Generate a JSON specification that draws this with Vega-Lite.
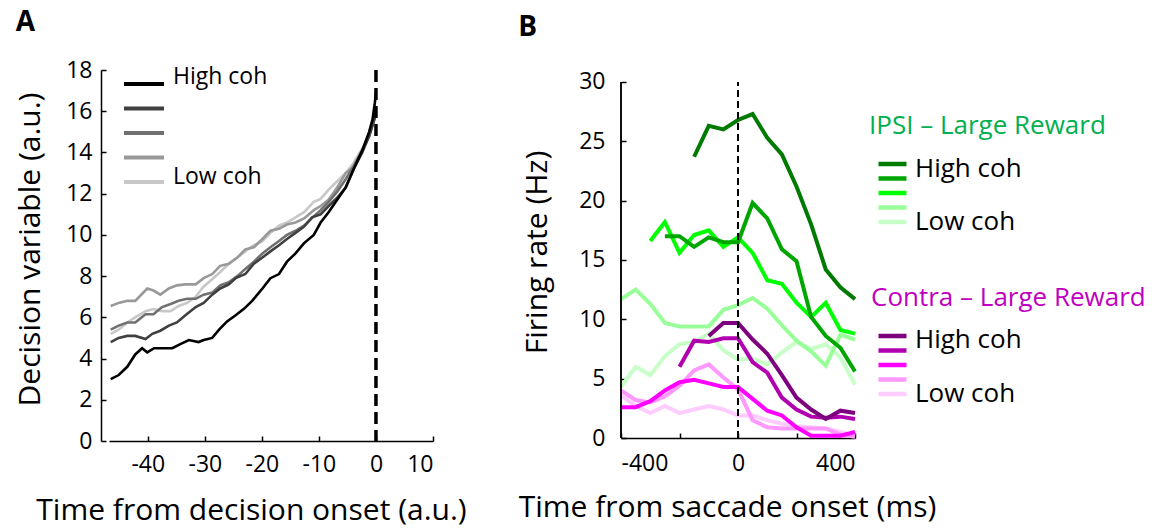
{
  "$schema": "https://vega.github.io/schema/vega-lite/v6.json",
  "background": "white",
  "padding": {"left": 15, "top": 9, "right": 4, "bottom": 4},
  "config": {
    "font": "Open Sans",
    "view": {"stroke": null},
    "axis": {
      "grid": false,
      "domainColor": "black",
      "domainWidth": 1.5,
      "tickColor": "black",
      "tickWidth": 1.5,
      "tickSize": -5,
      "labelColor": "black",
      "titleColor": "black",
      "labelFont": "Open Sans",
      "titleFont": "Open Sans",
      "labelFontSize": 23,
      "titleFontSize": 30,
      "titleFontWeight": "normal"
    },
    "legend": {"labelFont": "Open Sans", "titleFont": "Open Sans", "labelColor": "black"},
    "title": {"font": "Open Sans", "fontWeight": "bold", "fontSize": 28, "color": "black", "anchor": "start", "frame": "bounds"}
  },
  "datasets": {
    "decision": [
      {"coh": "c5", "t": -46.5, "dv": 5.2}, {"coh": "c5", "t": -45.1, "dv": 5.4}, {"coh": "c5", "t": -43.6, "dv": 5.75}, {"coh": "c5", "t": -42.2, "dv": 6.0}, {"coh": "c5", "t": -40.4, "dv": 6.3}, {"coh": "c5", "t": -39.0, "dv": 6.4}, {"coh": "c5", "t": -37.5, "dv": 6.3}, {"coh": "c5", "t": -36.0, "dv": 6.3}, {"coh": "c5", "t": -34.6, "dv": 6.55}, {"coh": "c5", "t": -33.1, "dv": 6.7}, {"coh": "c5", "t": -31.6, "dv": 7.0}, {"coh": "c5", "t": -30.2, "dv": 7.5}, {"coh": "c5", "t": -28.7, "dv": 7.85}, {"coh": "c5", "t": -27.3, "dv": 8.2}, {"coh": "c5", "t": -25.8, "dv": 8.6}, {"coh": "c5", "t": -24.3, "dv": 8.9}, {"coh": "c5", "t": -22.9, "dv": 9.2}, {"coh": "c5", "t": -21.4, "dv": 9.5}, {"coh": "c5", "t": -19.9, "dv": 9.7}, {"coh": "c5", "t": -18.5, "dv": 10.1}, {"coh": "c5", "t": -17.0, "dv": 10.45}, {"coh": "c5", "t": -15.6, "dv": 10.6}, {"coh": "c5", "t": -14.1, "dv": 10.85}, {"coh": "c5", "t": -12.6, "dv": 11.1}, {"coh": "c5", "t": -10.9, "dv": 11.6}, {"coh": "c5", "t": -9.7, "dv": 11.75}, {"coh": "c5", "t": -8.3, "dv": 12.2}, {"coh": "c5", "t": -6.8, "dv": 12.6}, {"coh": "c5", "t": -5.3, "dv": 13.0}, {"coh": "c5", "t": -3.9, "dv": 13.5}, {"coh": "c5", "t": -2.4, "dv": 14.2}, {"coh": "c5", "t": -1.2, "dv": 14.8}, {"coh": "c5", "t": -0.3, "dv": 15.6}, {"coh": "c5", "t": 0, "dv": 15.9},
      {"coh": "c4", "t": -46.5, "dv": 6.55}, {"coh": "c4", "t": -45.1, "dv": 6.7}, {"coh": "c4", "t": -43.6, "dv": 6.8}, {"coh": "c4", "t": -42.2, "dv": 6.8}, {"coh": "c4", "t": -40.1, "dv": 7.4}, {"coh": "c4", "t": -39.0, "dv": 7.3}, {"coh": "c4", "t": -37.8, "dv": 7.1}, {"coh": "c4", "t": -36.3, "dv": 7.4}, {"coh": "c4", "t": -34.9, "dv": 7.55}, {"coh": "c4", "t": -33.4, "dv": 7.6}, {"coh": "c4", "t": -31.6, "dv": 7.6}, {"coh": "c4", "t": -30.2, "dv": 7.9}, {"coh": "c4", "t": -28.7, "dv": 8.1}, {"coh": "c4", "t": -27.3, "dv": 8.5}, {"coh": "c4", "t": -25.8, "dv": 8.6}, {"coh": "c4", "t": -24.3, "dv": 8.9}, {"coh": "c4", "t": -22.9, "dv": 9.3}, {"coh": "c4", "t": -21.4, "dv": 9.4}, {"coh": "c4", "t": -19.9, "dv": 9.8}, {"coh": "c4", "t": -18.5, "dv": 10.2}, {"coh": "c4", "t": -17.0, "dv": 10.3}, {"coh": "c4", "t": -15.6, "dv": 10.5}, {"coh": "c4", "t": -14.1, "dv": 10.6}, {"coh": "c4", "t": -12.6, "dv": 10.8}, {"coh": "c4", "t": -10.9, "dv": 11.2}, {"coh": "c4", "t": -9.7, "dv": 11.4}, {"coh": "c4", "t": -8.3, "dv": 11.7}, {"coh": "c4", "t": -6.8, "dv": 12.3}, {"coh": "c4", "t": -5.3, "dv": 13.0}, {"coh": "c4", "t": -3.9, "dv": 13.3}, {"coh": "c4", "t": -2.4, "dv": 14.1}, {"coh": "c4", "t": -1.2, "dv": 14.8}, {"coh": "c4", "t": -0.3, "dv": 15.6}, {"coh": "c4", "t": 0, "dv": 15.9},
      {"coh": "c3", "t": -46.5, "dv": 5.4}, {"coh": "c3", "t": -45.1, "dv": 5.6}, {"coh": "c3", "t": -43.6, "dv": 5.75}, {"coh": "c3", "t": -42.2, "dv": 5.75}, {"coh": "c3", "t": -40.4, "dv": 6.15}, {"coh": "c3", "t": -39.0, "dv": 6.15}, {"coh": "c3", "t": -37.5, "dv": 6.5}, {"coh": "c3", "t": -36.0, "dv": 6.65}, {"coh": "c3", "t": -34.6, "dv": 6.8}, {"coh": "c3", "t": -33.1, "dv": 6.9}, {"coh": "c3", "t": -31.6, "dv": 6.9}, {"coh": "c3", "t": -30.2, "dv": 7.1}, {"coh": "c3", "t": -28.7, "dv": 7.2}, {"coh": "c3", "t": -27.3, "dv": 7.55}, {"coh": "c3", "t": -25.8, "dv": 7.7}, {"coh": "c3", "t": -24.3, "dv": 8.0}, {"coh": "c3", "t": -22.9, "dv": 8.35}, {"coh": "c3", "t": -21.4, "dv": 8.7}, {"coh": "c3", "t": -19.9, "dv": 9.1}, {"coh": "c3", "t": -18.5, "dv": 9.4}, {"coh": "c3", "t": -17.0, "dv": 9.7}, {"coh": "c3", "t": -15.6, "dv": 10.0}, {"coh": "c3", "t": -14.1, "dv": 10.2}, {"coh": "c3", "t": -12.6, "dv": 10.45}, {"coh": "c3", "t": -10.9, "dv": 10.9}, {"coh": "c3", "t": -9.7, "dv": 11.2}, {"coh": "c3", "t": -8.3, "dv": 11.6}, {"coh": "c3", "t": -6.8, "dv": 12.1}, {"coh": "c3", "t": -5.3, "dv": 12.7}, {"coh": "c3", "t": -3.9, "dv": 13.35}, {"coh": "c3", "t": -2.4, "dv": 14.1}, {"coh": "c3", "t": -1.2, "dv": 14.8}, {"coh": "c3", "t": -0.3, "dv": 15.6}, {"coh": "c3", "t": 0, "dv": 15.9},
      {"coh": "c2", "t": -46.5, "dv": 4.8}, {"coh": "c2", "t": -45.1, "dv": 5.0}, {"coh": "c2", "t": -43.6, "dv": 5.1}, {"coh": "c2", "t": -42.2, "dv": 5.1}, {"coh": "c2", "t": -40.4, "dv": 4.95}, {"coh": "c2", "t": -39.2, "dv": 5.2}, {"coh": "c2", "t": -37.8, "dv": 5.35}, {"coh": "c2", "t": -36.3, "dv": 5.6}, {"coh": "c2", "t": -34.9, "dv": 5.75}, {"coh": "c2", "t": -33.4, "dv": 6.1}, {"coh": "c2", "t": -31.6, "dv": 6.5}, {"coh": "c2", "t": -30.2, "dv": 6.7}, {"coh": "c2", "t": -28.7, "dv": 7.1}, {"coh": "c2", "t": -27.3, "dv": 7.4}, {"coh": "c2", "t": -25.8, "dv": 7.6}, {"coh": "c2", "t": -24.6, "dv": 7.9}, {"coh": "c2", "t": -22.9, "dv": 8.1}, {"coh": "c2", "t": -21.4, "dv": 8.6}, {"coh": "c2", "t": -19.9, "dv": 8.9}, {"coh": "c2", "t": -18.5, "dv": 9.2}, {"coh": "c2", "t": -17.0, "dv": 9.5}, {"coh": "c2", "t": -15.6, "dv": 9.8}, {"coh": "c2", "t": -14.1, "dv": 10.1}, {"coh": "c2", "t": -12.6, "dv": 10.4}, {"coh": "c2", "t": -11.2, "dv": 10.85}, {"coh": "c2", "t": -9.7, "dv": 11.0}, {"coh": "c2", "t": -8.3, "dv": 11.4}, {"coh": "c2", "t": -6.8, "dv": 11.8}, {"coh": "c2", "t": -5.3, "dv": 12.3}, {"coh": "c2", "t": -3.9, "dv": 13.2}, {"coh": "c2", "t": -2.4, "dv": 14.0}, {"coh": "c2", "t": -1.2, "dv": 14.8}, {"coh": "c2", "t": -0.3, "dv": 15.6}, {"coh": "c2", "t": 0, "dv": 15.9},
      {"coh": "c1", "t": -46.5, "dv": 3.0}, {"coh": "c1", "t": -45.1, "dv": 3.2}, {"coh": "c1", "t": -43.6, "dv": 3.6}, {"coh": "c1", "t": -42.2, "dv": 4.2}, {"coh": "c1", "t": -41.0, "dv": 4.5}, {"coh": "c1", "t": -40.1, "dv": 4.3}, {"coh": "c1", "t": -38.9, "dv": 4.5}, {"coh": "c1", "t": -37.2, "dv": 4.5}, {"coh": "c1", "t": -35.7, "dv": 4.5}, {"coh": "c1", "t": -34.3, "dv": 4.7}, {"coh": "c1", "t": -32.8, "dv": 4.9}, {"coh": "c1", "t": -31.1, "dv": 4.8}, {"coh": "c1", "t": -30.2, "dv": 4.9}, {"coh": "c1", "t": -28.7, "dv": 5.0}, {"coh": "c1", "t": -27.5, "dv": 5.4}, {"coh": "c1", "t": -26.1, "dv": 5.8}, {"coh": "c1", "t": -24.6, "dv": 6.1}, {"coh": "c1", "t": -23.2, "dv": 6.4}, {"coh": "c1", "t": -21.7, "dv": 6.8}, {"coh": "c1", "t": -19.9, "dv": 7.4}, {"coh": "c1", "t": -18.5, "dv": 7.9}, {"coh": "c1", "t": -17.0, "dv": 8.1}, {"coh": "c1", "t": -15.6, "dv": 8.7}, {"coh": "c1", "t": -14.1, "dv": 9.1}, {"coh": "c1", "t": -12.6, "dv": 9.6}, {"coh": "c1", "t": -10.9, "dv": 10.0}, {"coh": "c1", "t": -9.7, "dv": 10.6}, {"coh": "c1", "t": -8.3, "dv": 11.1}, {"coh": "c1", "t": -6.8, "dv": 11.7}, {"coh": "c1", "t": -5.3, "dv": 12.3}, {"coh": "c1", "t": -3.9, "dv": 13.2}, {"coh": "c1", "t": -2.4, "dv": 14.1}, {"coh": "c1", "t": -1.2, "dv": 15.0}, {"coh": "c1", "t": -0.6, "dv": 15.6}, {"coh": "c1", "t": -0.2, "dv": 16.4}, {"coh": "c1", "t": 0, "dv": 16.9}
    ],
    "ipsi": [
      {"level": "i5", "t": -400, "rate": 4.3}, {"level": "i5", "t": -350, "rate": 6.0}, {"level": "i5", "t": -300, "rate": 5.3}, {"level": "i5", "t": -250, "rate": 6.9}, {"level": "i5", "t": -200, "rate": 7.9}, {"level": "i5", "t": -150, "rate": 8.1}, {"level": "i5", "t": -100, "rate": 8.8}, {"level": "i5", "t": -50, "rate": 7.4}, {"level": "i5", "t": 0, "rate": 6.6}, {"level": "i5", "t": 50, "rate": 6.7}, {"level": "i5", "t": 100, "rate": 6.2}, {"level": "i5", "t": 150, "rate": 7.2}, {"level": "i5", "t": 200, "rate": 8.1}, {"level": "i5", "t": 250, "rate": 7.5}, {"level": "i5", "t": 300, "rate": 7.9}, {"level": "i5", "t": 350, "rate": 6.8}, {"level": "i5", "t": 400, "rate": 4.5},
      {"level": "i4", "t": -400, "rate": 11.7}, {"level": "i4", "t": -350, "rate": 12.5}, {"level": "i4", "t": -300, "rate": 11.3}, {"level": "i4", "t": -250, "rate": 9.7}, {"level": "i4", "t": -200, "rate": 9.4}, {"level": "i4", "t": -150, "rate": 9.4}, {"level": "i4", "t": -100, "rate": 9.4}, {"level": "i4", "t": -50, "rate": 10.8}, {"level": "i4", "t": 0, "rate": 11.2}, {"level": "i4", "t": 50, "rate": 11.8}, {"level": "i4", "t": 100, "rate": 10.9}, {"level": "i4", "t": 150, "rate": 9.5}, {"level": "i4", "t": 200, "rate": 8.2}, {"level": "i4", "t": 250, "rate": 7.3}, {"level": "i4", "t": 300, "rate": 6.1}, {"level": "i4", "t": 350, "rate": 8.7}, {"level": "i4", "t": 400, "rate": 8.3},
      {"level": "i3", "t": -300, "rate": 16.6}, {"level": "i3", "t": -250, "rate": 18.2}, {"level": "i3", "t": -200, "rate": 15.6}, {"level": "i3", "t": -150, "rate": 17.1}, {"level": "i3", "t": -100, "rate": 17.5}, {"level": "i3", "t": -50, "rate": 16.1}, {"level": "i3", "t": 0, "rate": 16.9}, {"level": "i3", "t": 50, "rate": 15.6}, {"level": "i3", "t": 100, "rate": 13.3}, {"level": "i3", "t": 150, "rate": 13.0}, {"level": "i3", "t": 200, "rate": 11.4}, {"level": "i3", "t": 250, "rate": 10.2}, {"level": "i3", "t": 300, "rate": 11.4}, {"level": "i3", "t": 350, "rate": 9.1}, {"level": "i3", "t": 400, "rate": 8.8},
      {"level": "i2", "t": -250, "rate": 17.0}, {"level": "i2", "t": -200, "rate": 17.0}, {"level": "i2", "t": -150, "rate": 16.1}, {"level": "i2", "t": -100, "rate": 16.9}, {"level": "i2", "t": -50, "rate": 16.5}, {"level": "i2", "t": 0, "rate": 16.5}, {"level": "i2", "t": 50, "rate": 19.8}, {"level": "i2", "t": 100, "rate": 18.5}, {"level": "i2", "t": 150, "rate": 15.9}, {"level": "i2", "t": 200, "rate": 14.9}, {"level": "i2", "t": 250, "rate": 10.2}, {"level": "i2", "t": 300, "rate": 8.6}, {"level": "i2", "t": 350, "rate": 7.6}, {"level": "i2", "t": 400, "rate": 5.6},
      {"level": "i1", "t": -150, "rate": 23.7}, {"level": "i1", "t": -100, "rate": 26.3}, {"level": "i1", "t": -50, "rate": 26.0}, {"level": "i1", "t": 0, "rate": 26.8}, {"level": "i1", "t": 50, "rate": 27.3}, {"level": "i1", "t": 100, "rate": 25.3}, {"level": "i1", "t": 150, "rate": 23.9}, {"level": "i1", "t": 200, "rate": 21.2}, {"level": "i1", "t": 250, "rate": 18.0}, {"level": "i1", "t": 300, "rate": 14.2}, {"level": "i1", "t": 350, "rate": 12.7}, {"level": "i1", "t": 400, "rate": 11.7}
    ],
    "contra": [
      {"level": "k5", "t": -400, "rate": 3.6}, {"level": "k5", "t": -350, "rate": 2.7}, {"level": "k5", "t": -300, "rate": 2.1}, {"level": "k5", "t": -250, "rate": 2.7}, {"level": "k5", "t": -200, "rate": 2.1}, {"level": "k5", "t": -150, "rate": 2.4}, {"level": "k5", "t": -100, "rate": 2.7}, {"level": "k5", "t": -50, "rate": 2.4}, {"level": "k5", "t": 0, "rate": 1.9}, {"level": "k5", "t": 50, "rate": 1.9}, {"level": "k5", "t": 100, "rate": 1.5}, {"level": "k5", "t": 150, "rate": 1.2}, {"level": "k5", "t": 200, "rate": 1.0}, {"level": "k5", "t": 250, "rate": 0.9}, {"level": "k5", "t": 300, "rate": 0.8}, {"level": "k5", "t": 350, "rate": 0.5}, {"level": "k5", "t": 400, "rate": 0.2},
      {"level": "k4", "t": -400, "rate": 4.0}, {"level": "k4", "t": -350, "rate": 3.2}, {"level": "k4", "t": -300, "rate": 3.0}, {"level": "k4", "t": -250, "rate": 3.5}, {"level": "k4", "t": -200, "rate": 4.4}, {"level": "k4", "t": -150, "rate": 5.7}, {"level": "k4", "t": -100, "rate": 6.2}, {"level": "k4", "t": -50, "rate": 5.1}, {"level": "k4", "t": 0, "rate": 4.1}, {"level": "k4", "t": 50, "rate": 1.5}, {"level": "k4", "t": 100, "rate": 0.9}, {"level": "k4", "t": 150, "rate": 0.8}, {"level": "k4", "t": 200, "rate": 0.8}, {"level": "k4", "t": 250, "rate": 0.8}, {"level": "k4", "t": 300, "rate": 0.8}, {"level": "k4", "t": 350, "rate": 0.3}, {"level": "k4", "t": 400, "rate": 0.1},
      {"level": "k3", "t": -400, "rate": 2.6}, {"level": "k3", "t": -350, "rate": 2.6}, {"level": "k3", "t": -300, "rate": 3.1}, {"level": "k3", "t": -250, "rate": 4.0}, {"level": "k3", "t": -200, "rate": 4.7}, {"level": "k3", "t": -150, "rate": 4.9}, {"level": "k3", "t": -100, "rate": 4.6}, {"level": "k3", "t": -50, "rate": 4.3}, {"level": "k3", "t": 0, "rate": 4.3}, {"level": "k3", "t": 50, "rate": 3.3}, {"level": "k3", "t": 100, "rate": 2.3}, {"level": "k3", "t": 150, "rate": 1.9}, {"level": "k3", "t": 200, "rate": 0.9}, {"level": "k3", "t": 250, "rate": 0.2}, {"level": "k3", "t": 300, "rate": 0.2}, {"level": "k3", "t": 350, "rate": 0.2}, {"level": "k3", "t": 400, "rate": 0.5},
      {"level": "k2", "t": -200, "rate": 6.0}, {"level": "k2", "t": -150, "rate": 8.2}, {"level": "k2", "t": -100, "rate": 8.1}, {"level": "k2", "t": -50, "rate": 8.4}, {"level": "k2", "t": 0, "rate": 8.4}, {"level": "k2", "t": 50, "rate": 6.4}, {"level": "k2", "t": 100, "rate": 5.5}, {"level": "k2", "t": 150, "rate": 3.4}, {"level": "k2", "t": 200, "rate": 2.4}, {"level": "k2", "t": 250, "rate": 1.8}, {"level": "k2", "t": 300, "rate": 1.7}, {"level": "k2", "t": 350, "rate": 1.8}, {"level": "k2", "t": 400, "rate": 1.6},
      {"level": "k1", "t": -100, "rate": 8.6}, {"level": "k1", "t": -50, "rate": 9.7}, {"level": "k1", "t": 0, "rate": 9.7}, {"level": "k1", "t": 50, "rate": 8.3}, {"level": "k1", "t": 100, "rate": 7.1}, {"level": "k1", "t": 150, "rate": 5.3}, {"level": "k1", "t": 200, "rate": 3.4}, {"level": "k1", "t": 250, "rate": 2.4}, {"level": "k1", "t": 300, "rate": 1.6}, {"level": "k1", "t": 350, "rate": 2.3}, {"level": "k1", "t": 400, "rate": 2.1}
    ]
  },
  "hconcat": [
    {
      "width": 324,
      "height": 371,
      "title": {"text": "A", "offset": 22},
      "layer": [
        {
          "data": {"name": "decision"},
          "mark": {"type": "line", "strokeWidth": 2.6},
          "encoding": {
            "x": {
              "field": "t", "type": "quantitative",
              "scale": {"domain": [-46.8, 10], "nice": false},
              "axis": {"values": [-40, -30, -20, -10, 0, 10], "labelExpr": "'' + datum.value", "labelPadding": 17, "title": "Time from decision onset (a.u.)", "titlePadding": 19, "titleX": 142}
            },
            "y": {
              "field": "dv", "type": "quantitative",
              "scale": {"domain": [0, 18], "nice": false},
              "axis": {"values": [0, 2, 4, 6, 8, 10, 12, 14, 16, 18], "offset": 8, "labelPadding": 14, "title": "Decision variable (a.u.)", "titlePadding": 20, "titleY": 179}
            },
            "color": {
              "field": "coh", "type": "nominal",
              "scale": {"domain": ["c1", "c2", "c3", "c4", "c5"], "range": ["#000000", "#404040", "#707070", "#999999", "#c8c8c8"]},
              "legend": {
                "orient": "none", "legendX": 13, "legendY": 11, "title": null,
                "symbolType": "M-20,0H20", "symbolSize": 4, "symbolStrokeWidth": 4, "symbolOffset": 19,
                "labelFontSize": 1, "labelExpr": "''", "rowPadding": 19.5,
                "encode": {"symbols": {"update": {"strokeJoin": {"value": "round"}}}}
              }
            }
          }
        },
        {
          "data": {"values": [{"t": 0, "tag": "High coh"}, {"t": 0, "tag": "Low coh"}]},
          "mark": {"type": "rule", "strokeWidth": 3, "strokeDash": [12, 6]},
          "encoding": {
            "x": {"field": "t", "type": "quantitative"},
            "color": {
              "field": "tag", "type": "nominal",
              "scale": {"domain": ["High coh", "Low coh"], "range": ["black", "black"]},
              "legend": {
                "orient": "none", "legendX": 41, "legendY": 2, "title": null,
                "symbolSize": 0, "symbolStrokeWidth": 0, "symbolOpacity": 0,
                "labelFontSize": 23, "labelOffset": 0, "labelBaseline": "alphabetic", "rowPadding": 76
              }
            }
          }
        }
      ],
      "resolve": {"scale": {"color": "independent"}, "legend": {"color": "independent"}}
    },
    {
      "width": 234,
      "height": 368,
      "title": {"text": "B", "offset": 28},
      "layer": [
        {
          "data": {"name": "ipsi"},
          "mark": {"type": "line", "strokeWidth": 4},
          "encoding": {
            "x": {
              "field": "t", "type": "quantitative",
              "scale": {"domain": [-400, 400], "nice": false},
              "axis": {"values": [-400, -200, 0, 200, 400], "labelExpr": "'' + datum.value", "labelPadding": 19, "title": "Time from saccade onset (ms)", "titlePadding": 17, "titleX": 106}
            },
            "y": {
              "field": "rate", "type": "quantitative",
              "scale": {"domain": [0, 31.01], "nice": false},
              "axis": {"values": [0, 5, 10, 15, 20, 25, 30], "domain": false, "labelPadding": 21, "title": "Firing rate (Hz)", "titlePadding": 26, "titleY": 182}
            },
            "color": {
              "field": "level", "type": "nominal",
              "scale": {"domain": ["i1", "i2", "i3", "i4", "i5"], "range": ["#007a00", "#00a600", "#00ff00", "#99ff99", "#c8ffc8"]},
              "legend": {
                "orient": "none", "legendX": 248, "legendY": 43,
                "title": "IPSI – Large Reward", "titleColor": "#00b050", "titleFontSize": 26, "titleFontWeight": "normal", "titleLimit": 400, "titlePadding": 21.5,
                "symbolType": "M-14,0H14", "symbolSize": 4, "symbolStrokeWidth": 4.5, "symbolOffset": 20,
                "labelFontSize": 1, "labelExpr": "''", "rowPadding": 8.5,
                "encode": {"symbols": {"update": {"strokeJoin": {"value": "round"}}}}
              }
            }
          }
        },
        {
          "data": {"name": "contra"},
          "mark": {"type": "line", "strokeWidth": 4},
          "encoding": {
            "x": {"field": "t", "type": "quantitative"},
            "y": {"field": "rate", "type": "quantitative"},
            "color": {
              "field": "level", "type": "nominal",
              "scale": {"domain": ["k1", "k2", "k3", "k4", "k5"], "range": ["#7f007f", "#b000b0", "#ff00ff", "#ff99ff", "#ffccff"]},
              "legend": {
                "orient": "none", "legendX": 250, "legendY": 215,
                "title": "Contra – Large Reward", "titleColor": "#c000c0", "titleFontSize": 26, "titleFontWeight": "normal", "titleLimit": 400, "titlePadding": 21.5,
                "symbolType": "M-14,0H14", "symbolSize": 4, "symbolStrokeWidth": 4.5, "symbolOffset": 18,
                "labelFontSize": 1, "labelExpr": "''", "rowPadding": 8.5,
                "encode": {"symbols": {"update": {"strokeJoin": {"value": "round"}}}}
              }
            }
          }
        },
        {
          "data": {"values": [{"t": -400, "tag": "High coh"}, {"t": -400, "tag": "Low coh"}]},
          "mark": {"type": "rule", "strokeWidth": 1.5},
          "encoding": {
            "x": {"field": "t", "type": "quantitative"},
            "y": {"datum": 0},
            "y2": {"datum": 30},
            "color": {
              "field": "tag", "type": "nominal",
              "scale": {"domain": ["High coh", "Low coh"], "range": ["black", "black"]},
              "legend": {
                "orient": "none", "legendX": 268, "legendY": 257, "title": null,
                "symbolSize": 0, "symbolStrokeWidth": 0, "symbolOpacity": 0,
                "labelFontSize": 26, "labelOffset": 0, "labelBaseline": "middle", "rowPadding": 28
              }
            }
          }
        },
        {
          "data": {"values": [{"t": 0, "tag": "High coh"}, {"t": 0, "tag": "Low coh"}]},
          "mark": {"type": "rule", "strokeWidth": 1.8, "strokeDash": [7, 4]},
          "encoding": {
            "x": {"field": "t", "type": "quantitative"},
            "y": {"datum": 0},
            "y2": {"datum": 30},
            "color": {
              "field": "tag", "type": "nominal",
              "scale": {"domain": ["High coh", "Low coh"], "range": ["black", "black"]},
              "legend": {
                "orient": "none", "legendX": 268, "legendY": 85.5, "title": null,
                "symbolSize": 0, "symbolStrokeWidth": 0, "symbolOpacity": 0,
                "labelFontSize": 26, "labelOffset": 0, "labelBaseline": "middle", "rowPadding": 27.5
              }
            }
          }
        }
      ],
      "resolve": {"scale": {"color": "independent"}, "legend": {"color": "independent"}}
    }
  ],
  "spacing": 51,
  "resolve": {"scale": {"color": "independent"}, "legend": {"color": "independent"}}
}
